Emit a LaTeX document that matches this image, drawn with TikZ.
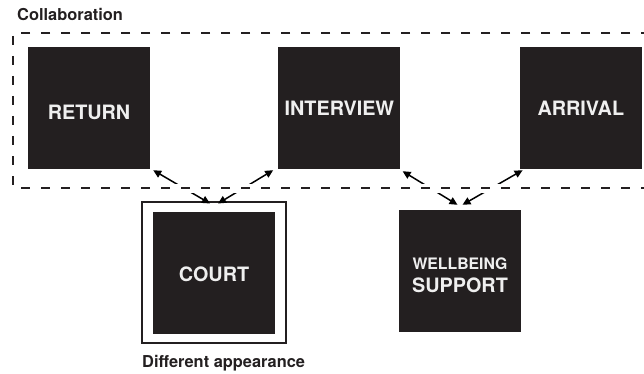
\documentclass[tikz,border=0pt]{standalone}
\usepackage{fontspec}
\setmainfont{TeX Gyre Heros}
\usetikzlibrary{arrows.meta, positioning}
\definecolor{ink}{HTML}{231F20}
\definecolor{paper}{HTML}{EFEFEF}

\begin{document}
\begin{tikzpicture}[x=1pt, y=-1pt, >={Triangle[length=8pt, width=7.5pt]},
  blk/.style={rectangle, fill=ink, minimum size=122pt, inner sep=0pt, text=paper, font=\bfseries\fontsize{19.8}{24}\selectfont},
  frm/.style={rectangle, draw=ink, line width=2pt, minimum width=144pt, minimum height=141pt, inner sep=0pt},
  lbl/.style={font=\bfseries\fontsize{16.4}{20}\selectfont, text=ink, inner sep=0pt},
  link/.style={<->, line width=1.5pt, black}]
\useasboundingbox (0,0) rectangle (644,374);
\node[blk] (ret) at (89,108) {\rule{0pt}{24pt}RETURN};
\node[blk, right=128pt of ret] (intv) {INTERVIEW};
\node[blk, right=119pt of intv] (arr) {ARRIVAL};
\node[frm] (frm) at (214,272.5) {};
\node[blk] (court) at (frm) {\rule{0pt}{19pt}COURT};
\node[blk, align=center] (well) at (460,271) {\rule{0pt}{20pt}{\fontsize{15.8}{18}\selectfont WELLBEING}\\[-1pt]SUPPORT};
\node[lbl, anchor=base west] (collab) at (17,21) {Collaboration};
\node[lbl, anchor=base west] (diff) at (142,367) {Different appearance};
% links to the lower boxes
\draw[link] ([shift={(3,1)}]ret.south east) -- ([shift={(-4,2.5)}]frm.north);
\draw[link] ([shift={(-5,1)}]intv.south west) -- ([shift={(4,2.5)}]frm.north);
\draw[link] ([shift={(2,2)}]intv.south east) -- ([shift={(-2.5,-5)}]well.north);
\draw[link] ([shift={(3,1)}]arr.south west) -- ([shift={(2.5,-5)}]well.north);
% collaboration border, cut round the links
\draw[white, line width=9pt] (650,33) -- (13,33) -- (13,188) -- (650,188);
\draw[ink, line width=2.5pt, dash pattern=on 9pt off 11pt] (650,33) -- (13,33) -- (13,188) -- (650,188);
\end{tikzpicture}
\end{document}
